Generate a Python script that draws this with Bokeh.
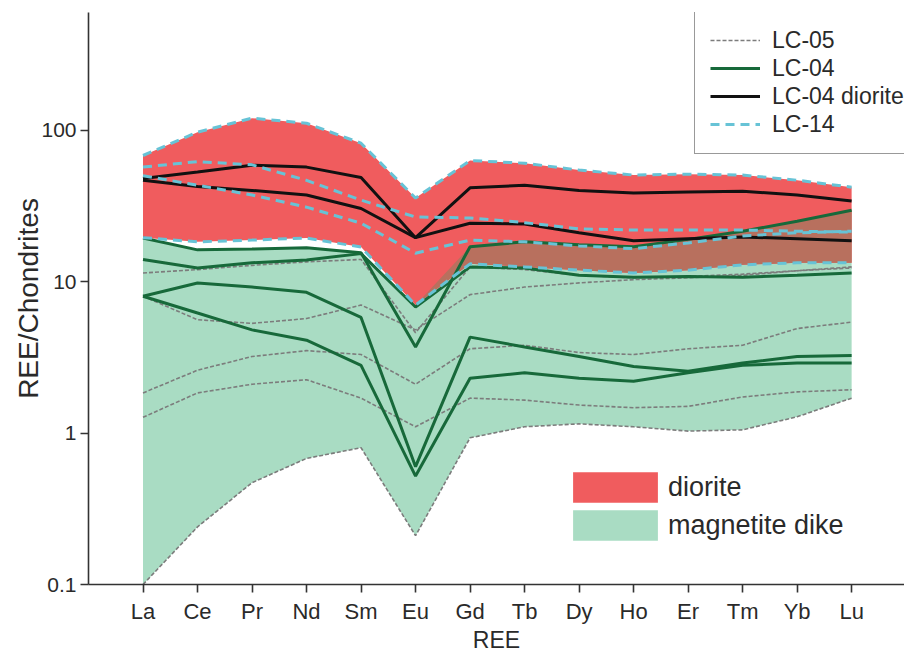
import numpy as np
from bokeh.plotting import figure
from bokeh.models import (Range1d, FixedTicker, CustomJSTickFormatter, Legend, LegendItem)
from bokeh.embed import file_html
from bokeh.resources import INLINE

# ---------------- data ----------------
ELEMENTS = ["La", "Ce", "Pr", "Nd", "Sm", "Eu", "Gd", "Tb", "Dy", "Ho", "Er", "Tm", "Yb", "Lu"]
X = list(range(1, 15))

# LC-05 (magnetite dike, grey dashed)
LC05_A = [11.4, 12.0, 12.8, 13.5, 14.0, 4.6, 12.5, 12.0, 11.0, 10.6, 10.8, 11.2, 11.8, 12.5]
LC05_B = [8.0, 5.6, 5.3, 5.7, 7.0, 4.8, 8.2, 9.2, 9.8, 10.3, 10.6, 11.0, 11.8, 12.3]
LC05_C = [1.84, 2.6, 3.2, 3.5, 3.3, 2.1, 3.6, 3.8, 3.4, 3.3, 3.6, 3.8, 4.9, 5.4]
LC05_D = [1.27, 1.84, 2.1, 2.25, 1.7, 1.1, 1.7, 1.65, 1.53, 1.47, 1.5, 1.73, 1.87, 1.93]
LC05_E = [0.1, 0.24, 0.47, 0.68, 0.80, 0.21, 0.93, 1.1, 1.15, 1.1, 1.03, 1.05, 1.28, 1.7]

# LC-04 (magnetite dike, green)
LC04_A = [19.4, 16.2, 16.4, 16.7, 15.5, 3.7, 17.0, 18.3, 17.5, 17.0, 19.0, 21.5, 25.0, 29.6]
LC04_B = [14.0, 12.3, 13.3, 13.9, 15.3, 6.8, 12.5, 12.3, 11.0, 10.7, 10.8, 10.7, 11.0, 11.4]
LC04_C = [8.0, 9.8, 9.2, 8.5, 5.8, 0.6, 4.3, 3.7, 3.2, 2.75, 2.56, 2.9, 3.2, 3.25]
LC04_D = [8.0, 6.2, 4.8, 4.1, 2.8, 0.52, 2.3, 2.5, 2.3, 2.2, 2.5, 2.8, 2.9, 2.9]

# LC-04 diorite (black)
LC04D_A = [48.0, 53.0, 58.6, 57.0, 48.6, 19.5, 41.6, 43.3, 40.0, 38.5, 39.0, 39.5, 37.3, 34.0]
LC04D_B = [46.6, 42.5, 40.0, 37.3, 30.4, 19.5, 24.3, 24.0, 21.0, 18.6, 19.2, 19.7, 19.2, 18.6]

# LC-14 (diorite, cyan dashed)
LC14_A = [68.0, 97.0, 120.0, 111.0, 82.0, 35.6, 63.0, 60.5, 54.5, 50.5, 51.2, 50.5, 46.7, 42.0]
LC14_B = [57.0, 62.0, 59.0, 46.6, 34.5, 26.7, 26.3, 24.5, 22.3, 21.9, 21.9, 21.9, 21.5, 21.2]
LC14_C = [50.0, 43.3, 37.3, 31.0, 24.3, 15.4, 18.8, 18.3, 17.2, 16.5, 18.0, 20.0, 21.0, 21.5]
LC14_D = [19.5, 18.3, 18.8, 19.4, 16.9, 7.0, 13.1, 12.5, 11.9, 11.4, 11.9, 12.9, 13.3, 13.3]

LC05 = [LC05_A, LC05_B, LC05_C, LC05_D, LC05_E]
LC04 = [LC04_A, LC04_B, LC04_C, LC04_D]
LC04D = [LC04D_A, LC04D_B]
LC14 = [LC14_A, LC14_B, LC14_C, LC14_D]

# ---------------- fields ----------------
dike = np.array(LC05 + LC04)
dike_hi = dike.max(axis=0)
dike_lo = dike.min(axis=0)
dio = np.array(LC14)
dio_hi = dio.max(axis=0)
dio_lo = dio.min(axis=0)
ov_lo = np.maximum(dio_lo, dike_lo)
ov_hi = np.minimum(dio_hi, dike_hi)
ov_hi = np.where(ov_hi < ov_lo, ov_lo, ov_hi)

RED = "#F05C5E"
MINT = "#A9DCC3"
BROWN = "#B8705E"
GREEN = "#17693A"
CYAN = "#67C3D6"
GREY = "#7C7C7C"
TXT = "#2A2A2A"
FONT = "Liberation Sans"

p = figure(width=904, height=655, output_backend="svg", toolbar_location=None,
           y_axis_type="log", x_range=Range1d(0, 14.97), y_range=Range1d(0.1, 598),
           min_border_left=88, min_border_right=0, min_border_top=12, min_border_bottom=70)
p.outline_line_color = None
p.xgrid.visible = False
p.ygrid.visible = False
p.background_fill_color = "white"
p.border_fill_color = "white"

r_dike = p.varea(x=X, y1=dike_lo, y2=dike_hi, fill_color=MINT)
r_dio = p.varea(x=X, y1=dio_lo, y2=dio_hi, fill_color=RED)
p.varea(x=X, y1=ov_lo, y2=ov_hi, fill_color=BROWN)

r05 = [p.line(X, s, line_color=GREY, line_width=1.6, line_dash="4 2") for s in LC05]
r04 = [p.line(X, s, line_color=GREEN, line_width=3) for s in LC04]
r04d = [p.line(X, s, line_color="#111111", line_width=3) for s in LC04D]
r14 = [p.line(X, s, line_color=CYAN, line_width=3, line_dash="9 6") for s in LC14]

# axes
for ax in (p.xaxis[0], p.yaxis[0]):
    ax.axis_line_color = "#333333"
    ax.axis_line_width = 1.6
    ax.major_tick_line_color = "#333333"
    ax.major_tick_line_width = 1.6
    ax.major_tick_out = 8
    ax.major_tick_in = 0
    ax.minor_tick_line_color = None
    ax.major_label_text_font = FONT
    ax.major_label_text_color = TXT
    ax.axis_label_text_font = FONT
    ax.axis_label_text_color = TXT
    ax.axis_label_text_font_style = "normal"

p.xaxis.ticker = FixedTicker(ticks=X)
p.xaxis.major_label_overrides = {x: e for x, e in zip(X, ELEMENTS)}
p.xaxis.major_label_text_font_size = "22px"
p.xaxis.major_label_standoff = 6
p.xaxis.axis_label = "REE"
p.xaxis.axis_label_text_font_size = "23px"
p.xaxis.axis_label_standoff = 0

p.yaxis.ticker = FixedTicker(ticks=[0.1, 1, 10, 100])
p.yaxis.formatter = CustomJSTickFormatter(code="return tick.toString()")
p.yaxis.major_label_text_font_size = "21px"
p.yaxis.major_label_standoff = 4
p.yaxis.axis_label = "REE/Chondrites"
p.yaxis.axis_label_text_font_size = "28px"
p.yaxis.axis_label_standoff = -6

# top-right legend
leg1 = Legend(items=[LegendItem(label="LC-05", renderers=[r05[0]]),
                     LegendItem(label="LC-04", renderers=[r04[0]]),
                     LegendItem(label="LC-04 diorite", renderers=[r04d[0]]),
                     LegendItem(label="LC-14", renderers=[r14[0]])],
              location=(606, 430), margin=0, padding=15, spacing=0,
              glyph_width=50, glyph_height=28, label_height=28, label_standoff=12,
              label_text_font=FONT, label_text_font_size="23px", label_text_color=TXT,
              border_line_color="#333333", border_line_width=1.5,
              background_fill_color="white", background_fill_alpha=1.0)
p.add_layout(leg1)

# bottom legend (fields)
leg2 = Legend(items=[LegendItem(label="diorite", renderers=[r_dio]),
                     LegendItem(label="magnetite dike", renderers=[r_dike])],
              location=(474, 40), margin=0, padding=0, spacing=0,
              glyph_width=106, glyph_height=38, label_height=38, label_standoff=0,
              label_text_font=FONT, label_text_font_size="27px", label_text_color=TXT,
              border_line_color=None, background_fill_alpha=0)
p.add_layout(leg2)

open("out.html", "w").write(file_html(p, INLINE))
